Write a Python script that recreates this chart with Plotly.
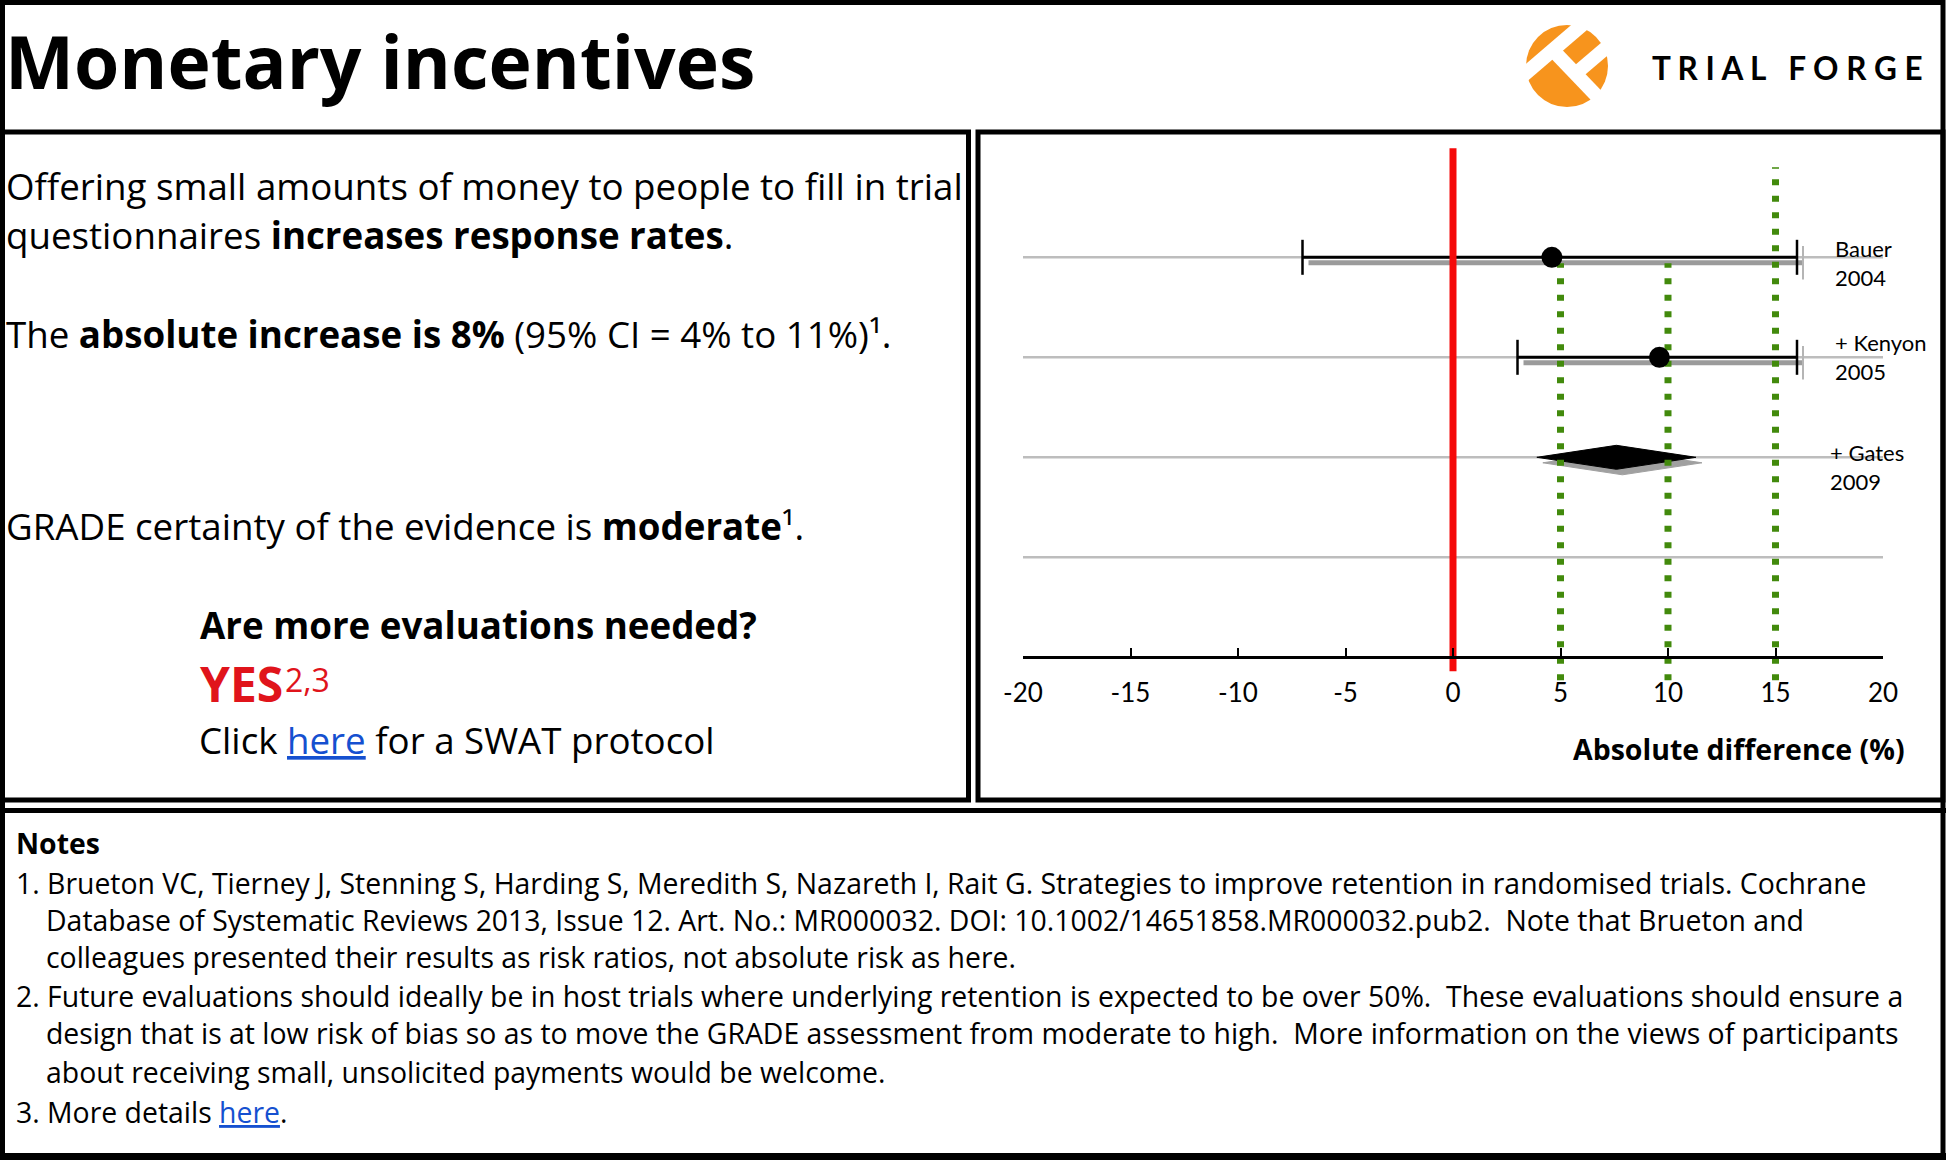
import plotly.graph_objects as go

W, H = 1946, 1160

# ---- data ----------------------------------------------------------------
STUDY_LABELS = ["Bauer<br>2004", "+ Kenyon<br>2005", "+ Gates<br>2009"]
ROW_Y = [4, 3, 2, 1]                 # grey guide rows, top to bottom
STUDY_ROW = [4, 3]                   # cumulative estimates (Bauer, +Kenyon)
STUDY_EST = [4.6, 9.6]
STUDY_LO = [-7.0, 3.0]
STUDY_HI = [16.0, 16.0]
POOLED_ROW = 2                       # + Gates (pooled, diamond)
POOLED_EST = 7.6
POOLED_LO = 3.9
POOLED_HI = 11.3
NULL_X = 0
NULL_SPAN = [-0.14, 5.09]
REF_X = [5, 10, 15]
REF_BOTTOM = [-0.23, -0.23, -0.23]
REF_TOP = [3.94, 3.94, 4.9]
TICK_VALS = [-20, -15, -10, -5, 0, 5, 10, 15, 20]
TICK_TEXT = ["-20", "-15", "-10", "-5", "0", "5", "10", "15", "20"]

LINK = "#1550d0"
NOTES = [
    "1. Brueton VC, Tierney J, Stenning S, Harding S, Meredith S, Nazareth I, Rait G. Strategies to improve retention in randomised trials. Cochrane",
    "Database of Systematic Reviews 2013, Issue 12. Art. No.: MR000032. DOI: 10.1002/14651858.MR000032.pub2.\u00a0 Note that Brueton and",
    "colleagues presented their results as risk ratios, not absolute risk as here.",
    "2. Future evaluations should ideally be in host trials where underlying retention is expected to be over 50%.\u00a0 These evaluations should ensure a",
    "design that is at low risk of bias so as to move the GRADE assessment from moderate to high.\u00a0 More information on the views of participants",
    "about receiving small, unsolicited payments would be welcome.",
    f"3. More details <span style='color:{LINK}'><u>here</u></span>.",
]

# ---- helpers (pixel -> paper) --------------------------------------------
def px(x):
    return x / W


def py(y):
    return 1 - y / H


BODY = "Open Sans"
TICKF = "Lato"
BS = 36.7   # body font size
NS = 28.4   # notes font size

# forest plot geometry (pixels)
AX_L, AX_R = 1023, 1883
ZERO_PX, UNIT_PX = 657.3, 100.0
TOP_PX, BOT_PX = 140, 780
y_hi = (ZERO_PX - TOP_PX) / UNIT_PX
y_lo = (ZERO_PX - BOT_PX) / UNIT_PX
x_unit = (AX_R - AX_L) / 40.0
sdx, sdy = 6 / x_unit, 5.5 / UNIT_PX   # drop-shadow offset

fig = go.Figure()

# grey guide rows
xs, ys = [], []
for r in ROW_Y:
    xs += [TICK_VALS[0], TICK_VALS[-1], None]
    ys += [r, r, None]
fig.add_trace(go.Scatter(x=xs, y=ys, mode="lines", line=dict(color="#bdbdbd", width=2.5),
                         xaxis="x", yaxis="y", hoverinfo="skip"))

# shadows
xs, ys = [], []
for r, lo, hi in zip(STUDY_ROW, STUDY_LO, STUDY_HI):
    xs += [lo, hi, None]
    ys += [r, r, None]
fig.add_trace(go.Scatter(x=xs, y=ys, mode="lines", line=dict(color="#9b9b9b", width=5),
                         xaxis="x2", yaxis="y2", hoverinfo="skip"))
fig.add_trace(go.Scatter(x=STUDY_HI, y=STUDY_ROW, mode="markers",
                         marker=dict(symbol="line-ns-open", size=24, color="#b5b5b5",
                                     line=dict(color="#b5b5b5", width=2)),
                         xaxis="x2", yaxis="y2", hoverinfo="skip"))
DH = 0.12
dia_x = [POOLED_LO, POOLED_EST, POOLED_HI, POOLED_EST, POOLED_LO]
dia_y = [POOLED_ROW, POOLED_ROW + DH, POOLED_ROW, POOLED_ROW - DH, POOLED_ROW]
fig.add_trace(go.Scatter(x=dia_x, y=dia_y, mode="lines", fill="toself", fillcolor="#a0a0a0",
                         line=dict(color="#a0a0a0", width=1), xaxis="x2", yaxis="y2", hoverinfo="skip"))

# confidence intervals
xs, ys = [], []
for r, lo, hi in zip(STUDY_ROW, STUDY_LO, STUDY_HI):
    xs += [lo, hi, None]
    ys += [r, r, None]
fig.add_trace(go.Scatter(x=xs, y=ys, mode="lines", line=dict(color="black", width=3),
                         xaxis="x3", yaxis="y3", hoverinfo="skip"))
fig.add_trace(go.Scatter(x=dia_x, y=dia_y, mode="lines", fill="toself", fillcolor="black",
                         line=dict(color="black", width=1), xaxis="x3", yaxis="y3", hoverinfo="skip"))

# null line and reference lines
fig.add_trace(go.Scatter(x=[NULL_X, NULL_X], y=NULL_SPAN, mode="lines",
                         line=dict(color="#f50a0a", width=7), xaxis="x3", yaxis="y3", hoverinfo="skip"))
xs, ys = [], []
for x, b, t in zip(REF_X, REF_BOTTOM, REF_TOP):
    xs += [x, x, None]
    ys += [b, t, None]
fig.add_trace(go.Scatter(x=xs, y=ys, mode="lines",
                         line=dict(color="#428a0c", width=7, dash="6px,10.5px"),
                         xaxis="x3", yaxis="y3", hoverinfo="skip"))

# whisker caps and point estimates
fig.add_trace(go.Scatter(x=STUDY_LO + STUDY_HI, y=STUDY_ROW + STUDY_ROW, mode="markers",
                         marker=dict(symbol="line-ns-open", size=25, color="black",
                                     line=dict(color="black", width=2.5)),
                         xaxis="x3", yaxis="y3", hoverinfo="skip"))
fig.add_trace(go.Scatter(x=STUDY_EST, y=STUDY_ROW, mode="markers",
                         marker=dict(symbol="circle", size=21, color="black"),
                         xaxis="x3", yaxis="y3", hoverinfo="skip"))

# ---- layout ----------------------------------------------------------------
xdom = [px(AX_L), px(AX_R)]
ydom = [py(BOT_PX), py(TOP_PX)]
fig.update_layout(
    width=W, height=H, margin=dict(l=0, r=0, t=0, b=0, pad=0, autoexpand=False),
    paper_bgcolor="white", plot_bgcolor="rgba(0,0,0,0)", showlegend=False,
    xaxis=dict(domain=xdom, range=[-20, 20], anchor="free", position=py(ZERO_PX),
               showline=True, linecolor="black", linewidth=3, ticks="inside", ticklen=8,
               tickwidth=2, tickcolor="black", tickvals=TICK_VALS, ticktext=TICK_TEXT,
               tickfont=dict(family=TICKF, size=26, color="black"), ticklabelstandoff=11,
               showgrid=False, zeroline=False, fixedrange=True, automargin=False),
    yaxis=dict(domain=ydom, range=[y_lo, y_hi], visible=False, fixedrange=True),
    xaxis2=dict(domain=xdom, range=[-20 - sdx, 20 - sdx], overlaying="x", anchor="y2",
                visible=False, fixedrange=True),
    yaxis2=dict(domain=ydom, range=[y_lo + sdy, y_hi + sdy], overlaying="y", anchor="x2",
                visible=False, fixedrange=True),
    xaxis3=dict(domain=xdom, range=[-20, 20], overlaying="x", anchor="y3",
                visible=False, fixedrange=True),
    yaxis3=dict(domain=ydom, range=[y_lo, y_hi], overlaying="y", anchor="x3",
                visible=False, fixedrange=True),
)

shapes = []


def rect(x0, y0, x1, y1, w=5):
    shapes.append(dict(type="rect", xref="paper", yref="paper", x0=px(x0), x1=px(x1),
                       y0=py(y0), y1=py(y1), line=dict(color="black", width=w)))


rect(2.5, 2.5, 1943, 1156.5)
rect(2.5, 132, 968.5, 800)
rect(978, 132, 1943, 800)
shapes.append(dict(type="line", xref="paper", yref="paper", x0=0, x1=1, y0=py(810.5), y1=py(810.5),
                   line=dict(color="black", width=5)))
shapes.append(dict(type="line", xref="paper", yref="paper", x0=0, x1=1, y0=py(1156.5), y1=py(1156.5),
                   line=dict(color="black", width=7)))

# Trial Forge logo
shapes.append(dict(type="circle", xref="paper", yref="paper", x0=px(1526), x1=px(1608),
                   y0=py(107), y1=py(25), fillcolor="#f7941d", line=dict(width=0)))
for (ax0, ay0, ax1, ay1) in [(1521.8, 76.6, 1585.1, 22.4), (1551.6, 48.9, 1597.6, 96.9),
                             (1575.5, 73.8, 1607.2, 46.75)]:
    shapes.append(dict(type="line", xref="paper", yref="paper", x0=px(ax0), y0=py(ay0),
                       x1=px(ax1), y1=py(ay1), line=dict(color="white", width=14)))

anns = []


def text(x, y, s, size, color="black", family=BODY, xanchor="left", yanchor="middle"):
    anns.append(dict(x=px(x), y=py(y), xref="paper", yref="paper", text=s, showarrow=False,
                     xanchor=xanchor, yanchor=yanchor, align="left", borderpad=0,
                     font=dict(family=family, size=size, color=color)))


text(4, 61, "<b>Monetary incentives</b>", 73.2)
text(1651, 68, "<b>T R I A L \u00a0 F O R G E</b>", 31.5, family=TICKF)

text(5, 186, "Offering small amounts of money to people to fill in trial", BS)
text(5, 235, "questionnaires <b>increases response rates</b>.", BS)
text(5, 333.5, "The <b>absolute increase is 8%</b> (95% CI = 4% to 11%)¹.", BS)
text(5, 526.5, "GRADE certainty of the evidence is <b>moderate</b>¹.", BS)
text(199, 625, "<b>Are more evaluations needed?</b>", BS)
text(199, 683, "<b>YES</b>", 48, color="#e0141b")
text(284, 679, "2,3", 32, color="#e0141b")
text(198, 740, f"Click <span style='color:{LINK}'><u>here</u></span> for a SWAT protocol", BS)

text(1906, 748.5, "<b>Absolute difference (%)</b>", 28.5, xanchor="right")

# study labels
label_px = [(1834, -6), (1834, 0), (1829, -10)]
for lab, r, (lx, ys_) in zip(STUDY_LABELS, [4, 3, 2], label_px):
    anns.append(dict(x=px(lx), y=r, xref="paper", yref="y3", text=lab, showarrow=False,
                     xanchor="left", yanchor="middle", align="left", yshift=ys_, borderpad=0,
                     font=dict(family=TICKF, size=22, color="black")))

text(15, 843, "<b>Notes</b>", NS)
note_x = [15, 45, 45, 15, 45, 45, 15]
note_base = [892.7, 930, 966.7, 1006, 1043, 1081.7, 1121.7]
for s, nx, nb in zip(NOTES, note_x, note_base):
    text(nx, nb - 10, s, NS)

fig.update_layout(shapes=shapes, annotations=anns)

fig.write_html("out.html", config={"displayModeBar": False},
               post_script="document.body.style.margin='0';document.body.style.overflow='hidden';")
